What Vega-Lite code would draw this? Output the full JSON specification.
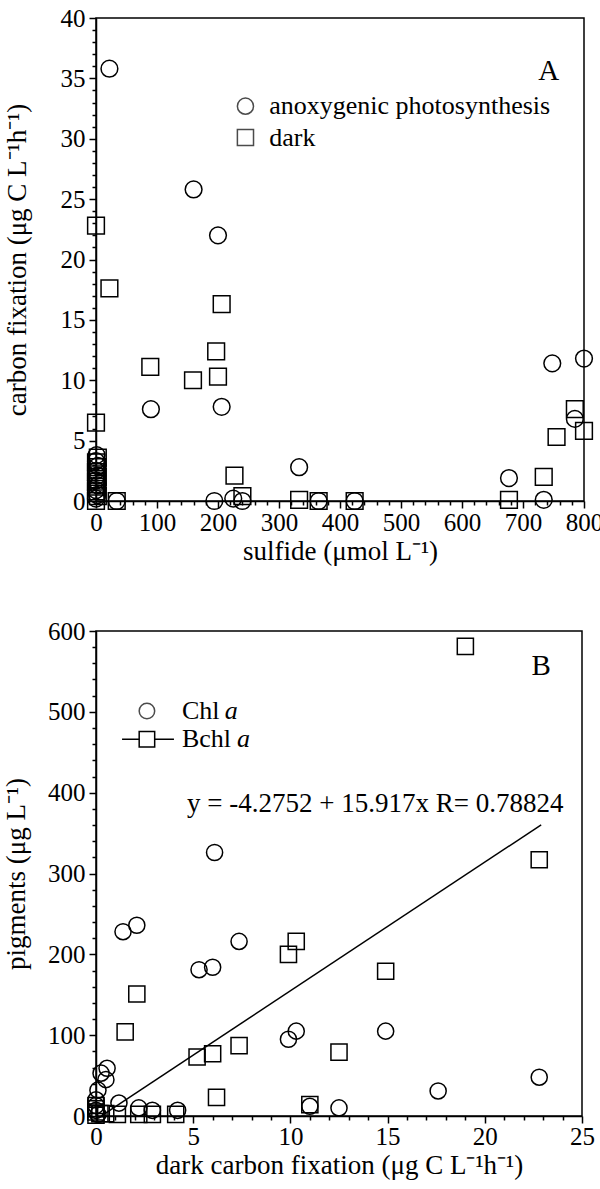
{
  "$schema": "https://vega.github.io/schema/vega-lite/v6.json",
  "background": "white",
  "padding": {"left": 1, "top": 5, "right": 5, "bottom": 3},
  "datasets": {
    "sulfide": [
      {"sulfide": 22, "fixation": 35.8, "type": "anoxygenic photosynthesis"},
      {"sulfide": 160, "fixation": 25.8, "type": "anoxygenic photosynthesis"},
      {"sulfide": 200, "fixation": 22.0, "type": "anoxygenic photosynthesis"},
      {"sulfide": 90, "fixation": 7.6, "type": "anoxygenic photosynthesis"},
      {"sulfide": 206, "fixation": 7.8, "type": "anoxygenic photosynthesis"},
      {"sulfide": 333, "fixation": 2.8, "type": "anoxygenic photosynthesis"},
      {"sulfide": 677, "fixation": 1.9, "type": "anoxygenic photosynthesis"},
      {"sulfide": 734, "fixation": 0.1, "type": "anoxygenic photosynthesis"},
      {"sulfide": 748, "fixation": 11.4, "type": "anoxygenic photosynthesis"},
      {"sulfide": 800, "fixation": 11.8, "type": "anoxygenic photosynthesis"},
      {"sulfide": 785, "fixation": 6.8, "type": "anoxygenic photosynthesis"},
      {"sulfide": 194, "fixation": 0.0, "type": "anoxygenic photosynthesis"},
      {"sulfide": 225, "fixation": 0.2, "type": "anoxygenic photosynthesis"},
      {"sulfide": 240, "fixation": 0.0, "type": "anoxygenic photosynthesis"},
      {"sulfide": 365, "fixation": 0.0, "type": "anoxygenic photosynthesis"},
      {"sulfide": 424, "fixation": 0.0, "type": "anoxygenic photosynthesis"},
      {"sulfide": 34, "fixation": 0.0, "type": "anoxygenic photosynthesis"},
      {"sulfide": 0, "fixation": 0.2, "type": "anoxygenic photosynthesis"},
      {"sulfide": 2, "fixation": 0.5, "type": "anoxygenic photosynthesis"},
      {"sulfide": 0, "fixation": 0.9, "type": "anoxygenic photosynthesis"},
      {"sulfide": 3, "fixation": 1.3, "type": "anoxygenic photosynthesis"},
      {"sulfide": 0, "fixation": 1.7, "type": "anoxygenic photosynthesis"},
      {"sulfide": 2, "fixation": 2.1, "type": "anoxygenic photosynthesis"},
      {"sulfide": 0, "fixation": 2.5, "type": "anoxygenic photosynthesis"},
      {"sulfide": 3, "fixation": 2.9, "type": "anoxygenic photosynthesis"},
      {"sulfide": 0, "fixation": 3.3, "type": "anoxygenic photosynthesis"},
      {"sulfide": 1, "fixation": 3.8, "type": "anoxygenic photosynthesis"},
      {"sulfide": 0, "fixation": 22.8, "type": "dark"},
      {"sulfide": 22, "fixation": 17.6, "type": "dark"},
      {"sulfide": 89, "fixation": 11.1, "type": "dark"},
      {"sulfide": 159, "fixation": 10.0, "type": "dark"},
      {"sulfide": 197, "fixation": 12.4, "type": "dark"},
      {"sulfide": 200, "fixation": 10.3, "type": "dark"},
      {"sulfide": 206, "fixation": 16.3, "type": "dark"},
      {"sulfide": 227, "fixation": 2.1, "type": "dark"},
      {"sulfide": 240, "fixation": 0.4, "type": "dark"},
      {"sulfide": 333, "fixation": 0.1, "type": "dark"},
      {"sulfide": 365, "fixation": 0.0, "type": "dark"},
      {"sulfide": 424, "fixation": 0.0, "type": "dark"},
      {"sulfide": 34, "fixation": 0.0, "type": "dark"},
      {"sulfide": 677, "fixation": 0.1, "type": "dark"},
      {"sulfide": 734, "fixation": 2.0, "type": "dark"},
      {"sulfide": 755, "fixation": 5.3, "type": "dark"},
      {"sulfide": 785, "fixation": 7.6, "type": "dark"},
      {"sulfide": 800, "fixation": 5.8, "type": "dark"},
      {"sulfide": 0, "fixation": 6.5, "type": "dark"},
      {"sulfide": 0, "fixation": 0.0, "type": "dark"},
      {"sulfide": 3, "fixation": 0.4, "type": "dark"},
      {"sulfide": 0, "fixation": 0.8, "type": "dark"},
      {"sulfide": 2, "fixation": 1.2, "type": "dark"},
      {"sulfide": 0, "fixation": 1.6, "type": "dark"},
      {"sulfide": 3, "fixation": 2.0, "type": "dark"},
      {"sulfide": 0, "fixation": 2.4, "type": "dark"},
      {"sulfide": 2, "fixation": 2.8, "type": "dark"},
      {"sulfide": 0, "fixation": 3.2, "type": "dark"},
      {"sulfide": 3, "fixation": 3.6, "type": "dark"}
    ],
    "pigments": [
      {"darkfix": 0.1, "pigment": 32, "pigment_type": "Chl a"},
      {"darkfix": 0.26, "pigment": 53, "pigment_type": "Chl a"},
      {"darkfix": 0.57, "pigment": 59, "pigment_type": "Chl a"},
      {"darkfix": 0.51, "pigment": 45, "pigment_type": "Chl a"},
      {"darkfix": 1.18, "pigment": 16, "pigment_type": "Chl a"},
      {"darkfix": 1.39, "pigment": 228, "pigment_type": "Chl a"},
      {"darkfix": 2.1, "pigment": 236, "pigment_type": "Chl a"},
      {"darkfix": 2.2, "pigment": 10, "pigment_type": "Chl a"},
      {"darkfix": 2.9, "pigment": 7, "pigment_type": "Chl a"},
      {"darkfix": 4.2, "pigment": 7, "pigment_type": "Chl a"},
      {"darkfix": 5.3, "pigment": 181, "pigment_type": "Chl a"},
      {"darkfix": 6.0, "pigment": 184, "pigment_type": "Chl a"},
      {"darkfix": 6.1, "pigment": 326, "pigment_type": "Chl a"},
      {"darkfix": 7.36, "pigment": 216, "pigment_type": "Chl a"},
      {"darkfix": 9.9, "pigment": 95, "pigment_type": "Chl a"},
      {"darkfix": 10.3, "pigment": 105, "pigment_type": "Chl a"},
      {"darkfix": 11.0, "pigment": 12, "pigment_type": "Chl a"},
      {"darkfix": 12.5, "pigment": 10, "pigment_type": "Chl a"},
      {"darkfix": 14.9, "pigment": 105, "pigment_type": "Chl a"},
      {"darkfix": 17.6, "pigment": 31, "pigment_type": "Chl a"},
      {"darkfix": 22.8, "pigment": 48, "pigment_type": "Chl a"},
      {"darkfix": 0.0, "pigment": 20, "pigment_type": "Chl a"},
      {"darkfix": 0.0, "pigment": 13, "pigment_type": "Chl a"},
      {"darkfix": 0.0, "pigment": 7, "pigment_type": "Chl a"},
      {"darkfix": 0.1, "pigment": 2, "pigment_type": "Chl a"},
      {"darkfix": 19.0, "pigment": 581, "pigment_type": "Bchl a"},
      {"darkfix": 22.8, "pigment": 317, "pigment_type": "Bchl a"},
      {"darkfix": 14.9, "pigment": 179, "pigment_type": "Bchl a"},
      {"darkfix": 10.3, "pigment": 216, "pigment_type": "Bchl a"},
      {"darkfix": 9.9, "pigment": 200, "pigment_type": "Bchl a"},
      {"darkfix": 2.1, "pigment": 151, "pigment_type": "Bchl a"},
      {"darkfix": 1.5, "pigment": 104, "pigment_type": "Bchl a"},
      {"darkfix": 5.2, "pigment": 73, "pigment_type": "Bchl a"},
      {"darkfix": 6.0, "pigment": 77, "pigment_type": "Bchl a"},
      {"darkfix": 7.36, "pigment": 87, "pigment_type": "Bchl a"},
      {"darkfix": 12.5, "pigment": 79, "pigment_type": "Bchl a"},
      {"darkfix": 6.2, "pigment": 23, "pigment_type": "Bchl a"},
      {"darkfix": 11.0, "pigment": 14, "pigment_type": "Bchl a"},
      {"darkfix": 1.1, "pigment": 2, "pigment_type": "Bchl a"},
      {"darkfix": 2.2, "pigment": 2, "pigment_type": "Bchl a"},
      {"darkfix": 2.9, "pigment": 2, "pigment_type": "Bchl a"},
      {"darkfix": 4.1, "pigment": 2, "pigment_type": "Bchl a"},
      {"darkfix": 0.0, "pigment": 1, "pigment_type": "Bchl a"},
      {"darkfix": 0.0, "pigment": 5, "pigment_type": "Bchl a"},
      {"darkfix": 0.0, "pigment": 9, "pigment_type": "Bchl a"},
      {"darkfix": 0.0, "pigment": 13, "pigment_type": "Bchl a"},
      {"darkfix": 0.2, "pigment": 3, "pigment_type": "Bchl a"},
      {"darkfix": 0.5, "pigment": 3, "pigment_type": "Bchl a"}
    ],
    "fit": [
      {"darkfix": 0.3, "pigment": 0.5},
      {"darkfix": 22.9, "pigment": 360.2}
    ],
    "anchor": [{}]
  },
  "vconcat": [
    {
      "width": 488,
      "height": 483,
      "encoding": {
        "x": {
          "type": "quantitative",
          "scale": {"domain": [0, 800], "nice": false, "zero": false},
          "axis": {
            "title": "sulfide (μmol L⁻¹)",
            "values": [0,20,40,60,80,100,120,140,160,180,200,220,240,260,280,300,320,340,360,380,400,420,440,460,480,500,520,540,560,580,600,620,640,660,680,700,720,740,760,780,800],
            "labelExpr": "datum.value % 100 === 0 ? datum.label : ''",
            "tickSize": {"condition": {"test": "datum.value % 100 === 0", "value": 7}, "value": 4},
            "labelPadding": 2,
            "titlePadding": 3
          }
        },
        "y": {
          "type": "quantitative",
          "scale": {"domain": [0, 40], "nice": false, "zero": false},
          "axis": {
            "title": "carbon fixation (μg C L⁻¹h⁻¹)",
            "values": [0,1,2,3,4,5,6,7,8,9,10,11,12,13,14,15,16,17,18,19,20,21,22,23,24,25,26,27,28,29,30,31,32,33,34,35,36,37,38,39,40],
            "labelExpr": "datum.value % 5 === 0 ? datum.label : ''",
            "tickSize": {"condition": {"test": "datum.value % 5 === 0", "value": 7}, "value": 4},
            "titlePadding": 29
          }
        }
      },
      "layer": [
        {
          "data": {"name": "sulfide"},
          "mark": {"type": "point", "filled": false, "stroke": "black", "strokeWidth": 1.5, "size": 280, "opacity": 1},
          "encoding": {
            "x": {"field": "sulfide"},
            "y": {"field": "fixation"},
            "shape": {
              "field": "type", "type": "nominal",
              "scale": {"domain": ["anoxygenic photosynthesis", "dark"], "range": ["circle", "square"]},
              "legend": null
            }
          }
        },
        {
          "data": {"name": "anchor"},
          "mark": {"type": "point", "shape": "circle", "filled": false, "stroke": "black", "strokeWidth": 1.5, "size": 260},
          "encoding": {"x": {"datum": 245}, "y": {"datum": 32.7}}
        },
        {
          "data": {"name": "anchor"},
          "mark": {"type": "point", "shape": "square", "filled": false, "stroke": "black", "strokeWidth": 1.5, "size": 260},
          "encoding": {"x": {"datum": 245}, "y": {"datum": 30.1}}
        },
        {
          "data": {"name": "anchor"},
          "mark": {"type": "text", "text": "anoxygenic photosynthesis", "align": "left", "baseline": "middle", "font": "Liberation Serif", "fontSize": 26, "color": "black"},
          "encoding": {"x": {"datum": 284}, "y": {"datum": 32.7}}
        },
        {
          "data": {"name": "anchor"},
          "mark": {"type": "text", "text": "dark", "align": "left", "baseline": "middle", "font": "Liberation Serif", "fontSize": 26, "color": "black"},
          "encoding": {"x": {"datum": 284}, "y": {"datum": 30.1}}
        },
        {
          "data": {"name": "anchor"},
          "mark": {"type": "text", "text": "A", "align": "center", "baseline": "middle", "font": "Liberation Serif", "fontSize": 29, "color": "black"},
          "encoding": {"x": {"datum": 742}, "y": {"datum": 35.6}}
        }
      ]
    },
    {
      "width": 486,
      "height": 485,
      "encoding": {
        "x": {
          "type": "quantitative",
          "scale": {"domain": [0, 25], "nice": false, "zero": false},
          "axis": {
            "title": "dark carbon fixation (μg C L⁻¹h⁻¹)",
            "values": [0,1,2,3,4,5,6,7,8,9,10,11,12,13,14,15,16,17,18,19,20,21,22,23,24,25],
            "labelExpr": "datum.value % 5 === 0 ? datum.label : ''",
            "tickSize": {"condition": {"test": "datum.value % 5 === 0", "value": 7}, "value": 4},
            "labelPadding": 1,
            "titlePadding": 3
          }
        },
        "y": {
          "type": "quantitative",
          "scale": {"domain": [0, 600], "nice": false, "zero": false},
          "axis": {
            "title": "pigments (μg L⁻¹)",
            "values": [0,20,40,60,80,100,120,140,160,180,200,220,240,260,280,300,320,340,360,380,400,420,440,460,480,500,520,540,560,580,600],
            "labelExpr": "datum.value % 100 === 0 ? datum.label : ''",
            "tickSize": {"condition": {"test": "datum.value % 100 === 0", "value": 7}, "value": 4},
            "titlePadding": 17
          }
        }
      },
      "layer": [
        {
          "data": {"name": "fit"},
          "mark": {"type": "line", "color": "black", "strokeWidth": 1.5},
          "encoding": {
            "x": {"field": "darkfix"},
            "y": {"field": "pigment"}
          }
        },
        {
          "data": {"name": "pigments"},
          "mark": {"type": "point", "filled": false, "stroke": "black", "strokeWidth": 1.5, "size": 260, "opacity": 1},
          "encoding": {
            "x": {"field": "darkfix"},
            "y": {"field": "pigment"},
            "shape": {
              "field": "pigment_type", "type": "nominal",
              "scale": {"domain": ["Chl a", "Bchl a"], "range": ["circle", "square"]},
              "legend": null
            }
          }
        },
        {
          "data": {"name": "anchor"},
          "mark": {"type": "point", "shape": "circle", "filled": false, "stroke": "black", "strokeWidth": 1.5, "size": 240},
          "encoding": {"x": {"datum": 2.62}, "y": {"datum": 501}}
        },
        {
          "data": {"name": "anchor"},
          "mark": {"type": "rule", "color": "black", "strokeWidth": 1.5},
          "encoding": {"x": {"datum": 1.34}, "x2": {"datum": 4.01}, "y": {"datum": 466}}
        },
        {
          "data": {"name": "anchor"},
          "mark": {"type": "point", "shape": "square", "filled": true, "fill": "white", "stroke": "black", "strokeWidth": 1.5, "size": 240, "opacity": 1},
          "encoding": {"x": {"datum": 2.62}, "y": {"datum": 466}}
        },
        {
          "data": {"name": "anchor"},
          "mark": {"type": "text", "text": "Chl", "align": "left", "baseline": "middle", "font": "Liberation Serif", "fontSize": 26, "color": "black"},
          "encoding": {"x": {"datum": 4.42}, "y": {"datum": 501}}
        },
        {
          "data": {"name": "anchor"},
          "mark": {"type": "text", "text": "a", "align": "left", "baseline": "middle", "font": "Liberation Serif", "fontStyle": "italic", "fontSize": 26, "color": "black"},
          "encoding": {"x": {"datum": 6.62}, "y": {"datum": 501}}
        },
        {
          "data": {"name": "anchor"},
          "mark": {"type": "text", "text": "Bchl", "align": "left", "baseline": "middle", "font": "Liberation Serif", "fontSize": 26, "color": "black"},
          "encoding": {"x": {"datum": 4.42}, "y": {"datum": 466}}
        },
        {
          "data": {"name": "anchor"},
          "mark": {"type": "text", "text": "a", "align": "left", "baseline": "middle", "font": "Liberation Serif", "fontStyle": "italic", "fontSize": 26, "color": "black"},
          "encoding": {"x": {"datum": 7.25}, "y": {"datum": 466}}
        },
        {
          "data": {"name": "anchor"},
          "mark": {"type": "text", "text": "y = -4.2752 + 15.917x R= 0.78824", "align": "left", "baseline": "middle", "font": "Liberation Serif", "fontSize": 27, "color": "black"},
          "encoding": {"x": {"datum": 4.68}, "y": {"datum": 386}}
        },
        {
          "data": {"name": "anchor"},
          "mark": {"type": "text", "text": "B", "align": "center", "baseline": "middle", "font": "Liberation Serif", "fontSize": 29, "color": "black"},
          "encoding": {"x": {"datum": 22.9}, "y": {"datum": 557}}
        }
      ]
    }
  ],
  "spacing": 53,
  "config": {
    "view": {"stroke": "black", "strokeWidth": 1.5},
    "axis": {
      "grid": false,
      "domainColor": "black",
      "domainWidth": 1.5,
      "tickColor": "black",
      "tickWidth": 1.5,
      "labelColor": "black",
      "labelFont": "Liberation Serif",
      "labelFontSize": 25,
      "labelPadding": 4,
      "labelOverlap": false,
      "labelFlush": false,
      "titleColor": "black",
      "titleFont": "Liberation Serif",
      "titleFontSize": 27,
      "titleFontWeight": "normal"
    }
  }
}
